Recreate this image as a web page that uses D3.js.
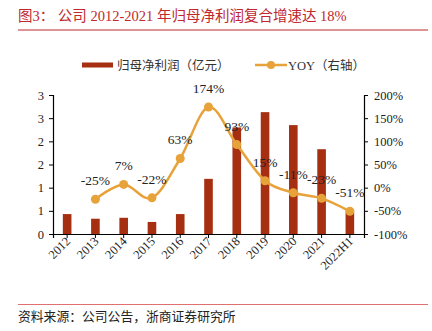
<!DOCTYPE html>
<html>
<head>
<meta charset="utf-8">
<script src="https://cdn.jsdelivr.net/npm/d3@7"></script>
<style>
  body { margin: 0; background: #fff; }
  svg { display: block; }
  .num { font-family: "Liberation Serif", "Times New Roman", serif; fill: #222; }
  .cjk { font-family: "Liberation Serif", "Noto Sans CJK SC", serif; }
</style>
</head>
<body>
<svg id="chart" width="432" height="331"></svg>
<script>
// data
let years = ["2012", "2013", "2014", "2015", "2016", "2017", "2018", "2019", "2020", "2021", "2022H1"];
let profit = [0.43, 0.33, 0.35, 0.26, 0.43, 1.19, 2.30, 2.63, 2.35, 1.83, 0.47];
let yoy = [null, -25, 7, -22, 63, 174, 93, 15, -11, -23, -51];
let leftTicks = [0, 0.5, 1, 1.5, 2, 2.5, 3];
let rightTicks = [-100, -50, 0, 50, 100, 150, 200];

const barCol = "#a52f10";
const lineCol = "#e8a23a";
const titleCol = "#c0282d";

const svg = d3.select("#chart");

const x0 = 53, x1 = 364, yTop = 95, yBot = 234;

let x_scale = d3.scaleBand(years, [x0, x1]);
let yl_scale = d3.scaleLinear([0, 3], [yBot, yTop]);
let yr_scale = d3.scaleLinear([-100, 200], [yBot, yTop]);

// title + rules
svg.append("text")
    .attr("class", "cjk")
    .attr("x", 18).attr("y", 21)
    .attr("fill", titleCol)
    .style("font-size", "14.5px")
    .text("图3：  公司 2012-2021 年归母净利润复合增速达 18%");

svg.append("line")
    .attr("x1", 18).attr("x2", 428).attr("y1", 30).attr("y2", 30)
    .attr("stroke", titleCol).attr("stroke-width", 1);

svg.append("line")
    .attr("x1", 18).attr("x2", 428).attr("y1", 304.5).attr("y2", 304.5)
    .attr("stroke", "#e07070").attr("stroke-width", 1);

svg.append("text")
    .attr("class", "cjk")
    .attr("x", 18).attr("y", 321)
    .attr("fill", "#222")
    .style("font-size", "12.8px")
    .text("资料来源：公司公告，浙商证券研究所");

// legend
svg.append("rect")
    .attr("x", 82).attr("y", 62.5).attr("width", 31).attr("height", 5)
    .attr("fill", barCol);
svg.append("text")
    .attr("class", "cjk")
    .attr("x", 117).attr("y", 69.5)
    .attr("fill", "#333")
    .style("font-size", "12.5px")
    .text("归母净利润（亿元）");

svg.append("line")
    .attr("x1", 255).attr("x2", 287).attr("y1", 65).attr("y2", 65)
    .attr("stroke", lineCol).attr("stroke-width", 2.5);
svg.append("circle")
    .attr("cx", 271).attr("cy", 65).attr("r", 4)
    .attr("fill", lineCol);
svg.append("text")
    .attr("class", "cjk")
    .attr("x", 288).attr("y", 69.5)
    .attr("fill", "#333")
    .style("font-size", "12.5px")
    .text("YOY（右轴）");

// bars
let barW = 8.6;
svg.selectAll(".bar")
    .data(years)
    .enter()
    .append("rect")
    .attr("class", "bar")
    .attr("x", (d) => x_scale(d) + x_scale.bandwidth() / 2 - barW / 2)
    .attr("y", (d, i) => yl_scale(profit[i]))
    .attr("width", barW)
    .attr("height", (d, i) => yBot - yl_scale(profit[i]))
    .attr("fill", barCol);

// axes
let axL = svg.append("g")
    .attr("transform", "translate(" + x0 + ",0)")
    .call(d3.axisLeft(yl_scale).tickValues(leftTicks).tickFormat(d3.format(".0f")).tickSize(4).tickPadding(5));

let axR = svg.append("g")
    .attr("transform", "translate(" + x1 + ",0)")
    .call(d3.axisRight(yr_scale).tickValues(rightTicks).tickFormat(d => d + "%").tickSize(4).tickPadding(6));

let axB = svg.append("g")
    .attr("transform", "translate(0," + yBot + ")")
    .call(d3.axisBottom(x_scale).tickSize(4).tickSizeOuter(4).tickFormat(""));

[axL, axR, axB].forEach(g => {
    g.select(".domain").attr("stroke", "#000").attr("stroke-width", 1.2);
    g.selectAll(".tick line").attr("stroke", "#000");
    g.selectAll("text")
        .attr("class", "num")
        .attr("fill", "#222")
        .style("font-size", "12.5px");
});

// rotated year labels
svg.selectAll(".xlab")
    .data(years)
    .enter()
    .append("text")
    .attr("class", "num xlab")
    .attr("text-anchor", "end")
    .style("font-size", "12.5px")
    .attr("transform", d => "translate(" + (x_scale(d) + x_scale.bandwidth() / 2 + 4) + "," + (yBot + 8) + ") rotate(-45)")
    .text(d => d);

// yoy line
let pts = years.map((d, i) => ({ yr: d, v: yoy[i] })).filter(p => p.v !== null);

let line = d3.line()
    .x(p => x_scale(p.yr) + x_scale.bandwidth() / 2)
    .y(p => yr_scale(p.v))
    .curve(d3.curveCardinal.tension(0));

svg.append("path")
    .datum(pts)
    .attr("d", line)
    .attr("fill", "none")
    .attr("stroke", lineCol)
    .attr("stroke-width", 2.5);

svg.selectAll(".yoyDot")
    .data(pts)
    .enter()
    .append("circle")
    .attr("class", "yoyDot")
    .attr("cx", p => x_scale(p.yr) + x_scale.bandwidth() / 2)
    .attr("cy", p => yr_scale(p.v))
    .attr("r", 4.5)
    .attr("fill", lineCol);

svg.selectAll(".yoyLab")
    .data(pts)
    .enter()
    .append("text")
    .attr("class", "num yoyLab")
    .attr("text-anchor", "middle")
    .style("font-size", "13.5px")
    .attr("x", p => x_scale(p.yr) + x_scale.bandwidth() / 2)
    .attr("y", p => yr_scale(p.v) - 14)
    .text(p => p.v + "%");
</script>
</body>
</html>
